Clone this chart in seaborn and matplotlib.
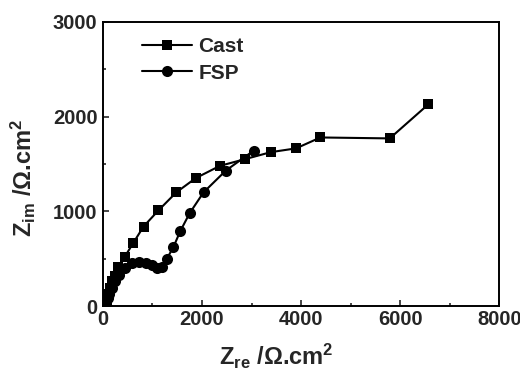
import numpy as np
import pandas as pd
import matplotlib
matplotlib.use("Agg")
import matplotlib.pyplot as plt
import seaborn as sns
from matplotlib.ticker import MultipleLocator

# Nyquist data
cast_zre = [60, 75, 90, 110, 140, 180, 250, 310, 440, 610, 820, 1120, 1480, 1870,
            2360, 2860, 3390, 3900, 4390, 5790, 6570]
cast_zim = [20, 50, 90, 130, 190, 260, 320, 410, 520, 665, 840, 1010, 1200, 1350,
            1480, 1550, 1625, 1665, 1780, 1770, 2130]

fsp_zre = [50, 70, 100, 130, 180, 250, 330, 450, 580, 720, 870, 1000, 1100, 1200,
           1290, 1420, 1560, 1750, 2030, 2480, 3040]
fsp_zim = [10, 40, 80, 130, 190, 260, 330, 400, 450, 470, 455, 430, 400, 410,
           500, 620, 790, 980, 1200, 1430, 1640]

sns.set_style("ticks")
plt.rcParams['font.family'] = ['Liberation Sans', 'DejaVu Sans']
plt.rcParams['font.weight'] = 'bold'
plt.rcParams['mathtext.fontset'] = 'custom'
plt.rcParams['mathtext.rm'] = 'Liberation Sans:bold'
plt.rcParams['mathtext.bf'] = 'Liberation Sans:bold'
plt.rcParams['mathtext.it'] = 'Liberation Sans:bold'

fig = plt.figure(figsize=(5.2, 3.71), dpi=100)
ax = fig.add_axes([0.198, 0.175, 0.762, 0.766])

cast = pd.DataFrame({'zre': cast_zre, 'zim': cast_zim})
fsp = pd.DataFrame({'zre': fsp_zre, 'zim': fsp_zim})

sns.lineplot(data=cast, x='zre', y='zim', sort=False, estimator=None, ax=ax,
             color='black', marker='s', markersize=7.5, markeredgewidth=0,
             linewidth=1.5, label='Cast')
sns.lineplot(data=fsp, x='zre', y='zim', sort=False, estimator=None, ax=ax,
             color='black', marker='o', markersize=8, markeredgewidth=0,
             linewidth=1.5, label='FSP')

ax.set_xlim(0, 8000)
ax.set_ylim(0, 3000)
ax.xaxis.set_major_locator(MultipleLocator(2000))
ax.xaxis.set_minor_locator(MultipleLocator(1000))
ax.yaxis.set_major_locator(MultipleLocator(1000))
ax.yaxis.set_minor_locator(MultipleLocator(500))
ax.tick_params(which='both', direction='in', top=False, right=False,
               labelsize=14.5, width=1.2)
ax.tick_params(axis='x', pad=3)
ax.tick_params(axis='y', pad=4)
ax.tick_params(which='major', length=4)
ax.tick_params(which='minor', length=2.5)
for s in ax.spines.values():
    s.set_visible(True)
    s.set_linewidth(1.4)
    s.set_color('black')

ax.set_xlabel(r'Z$_{\rm re}$ /Ω.cm$^{2}$', fontsize=17, fontweight='bold')
ax.set_ylabel(r'Z$_{\rm im}$ /Ω.cm$^{2}$', fontsize=17, fontweight='bold')
ax.xaxis.set_label_coords(0.437, -0.125)
ax.yaxis.set_label_coords(-0.165, 0.45)

leg = ax.legend(loc='upper left', frameon=False, fontsize=15, numpoints=1,
                handlelength=2.4, borderaxespad=0.0, bbox_to_anchor=(0.078, 0.975),
                labelspacing=0.35, handletextpad=0.3)

fig.savefig('out.png', dpi=100)
